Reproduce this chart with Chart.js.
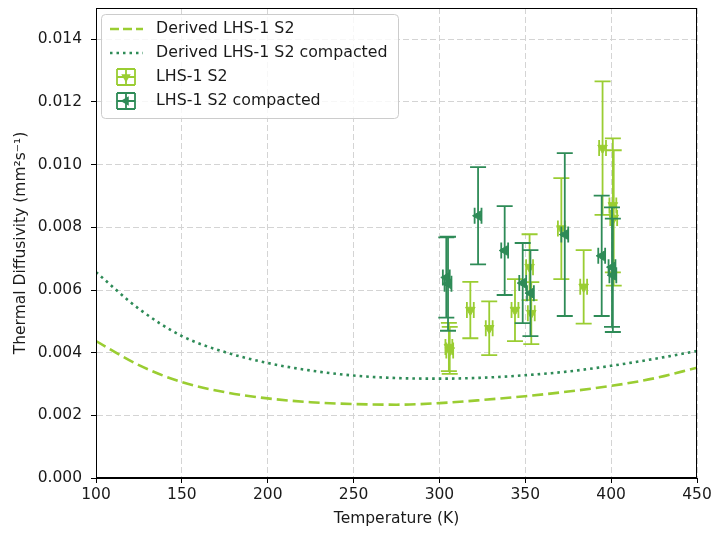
<!DOCTYPE html>
<html>
<head>
<meta charset="utf-8">
<script src="https://cdn.jsdelivr.net/npm/chart.js@4.4.1/dist/chart.umd.min.js"></script>
<style>
  html, body { margin: 0; padding: 0; background: #ffffff; }
  #wrap { width: 715px; height: 533px; }
</style>
</head>
<body>
<div id="wrap"><canvas id="c" width="715" height="533"></canvas></div>
<script>
// Derived diffusivity curves (K, mm^2/s)
const fitTemps = [100, 125, 150, 175, 200, 225, 250, 275, 300, 325, 350, 375, 400, 425, 450];
const fitBulk = [0.00437, 0.00360, 0.00306, 0.00274, 0.00254, 0.00242, 0.00236, 0.00234, 0.00239, 0.00249, 0.00261, 0.00276, 0.00294, 0.00318, 0.00352];
const fitCompacted = [0.00657, 0.00540, 0.00453, 0.00402, 0.00367, 0.00343, 0.00327, 0.00319, 0.00317, 0.00320, 0.00328, 0.00340, 0.00358, 0.00380, 0.00405];

// Measurements, LHS-1 S2
const bulkTemps = [305.5, 306, 318, 329, 344, 352.5, 353.5, 371, 384, 395, 401, 401.5];
const bulkValues = [0.00418, 0.00407, 0.00536, 0.00478, 0.00536, 0.00673, 0.00526, 0.00796, 0.00610, 0.01053, 0.00870, 0.00830];
const bulkErrors = [0.00077, 0.00075, 0.00090, 0.00086, 0.00099, 0.00105, 0.00099, 0.00161, 0.00117, 0.00213, 0.00214, 0.00216];
const bulkTempErrors = [2, 2, 2, 2, 2, 2, 2, 2, 2, 2, 2, 2];

// Measurements, LHS-1 S2 compacted
const compTemps = [304, 305, 322.5, 338, 348.5, 353, 373, 394.5, 400.5, 401];
const compValues = [0.00640, 0.00620, 0.00837, 0.00726, 0.00622, 0.00590, 0.00777, 0.00709, 0.00673, 0.00647];
const compErrors = [0.00128, 0.00150, 0.00155, 0.00142, 0.00128, 0.00137, 0.00260, 0.00192, 0.00191, 0.00181];
const compTempErrors = [2, 2, 2, 2, 2, 2, 2, 2, 2, 2];

const xTicks = [100, 150, 200, 250, 300, 350, 400, 450];
const yTicks = [0.000, 0.002, 0.004, 0.006, 0.008, 0.010, 0.012, 0.014];

const seriesNames = ['Derived LHS-1 S2', 'Derived LHS-1 S2 compacted', 'LHS-1 S2', 'LHS-1 S2 compacted'];

const LIGHT = '#9acd32';
const DARK = '#2e8b57';
const FONT = "'DejaVu Sans', sans-serif";
const TEXT = '#1a1a1a';

const toPoints = (xs, ys) => xs.map((x, i) => ({ x: x, y: ys[i] }));

// Error bars drawn just before each measurement dataset, so markers sit on top
const errorBarPlugin = {
  id: 'errorBars',
  beforeDatasetDraw(chart, args) {
    const ds = chart.data.datasets[args.index];
    if (!ds.yErr) return;
    const xs = chart.scales.x, ys = chart.scales.y;
    const ctx = chart.ctx;
    const cap = 8;
    ctx.save();
    ctx.strokeStyle = ds.borderColor;
    ctx.lineWidth = 1.8;
    ds.data.forEach((p, i) => {
      const px = xs.getPixelForValue(p.x);
      const py = ys.getPixelForValue(p.y);
      const yTop = ys.getPixelForValue(p.y + ds.yErr[i]);
      const yBot = ys.getPixelForValue(p.y - ds.yErr[i]);
      const xL = xs.getPixelForValue(p.x - ds.xErr[i]);
      const xR = xs.getPixelForValue(p.x + ds.xErr[i]);
      ctx.beginPath();
      ctx.moveTo(px, yTop); ctx.lineTo(px, yBot);
      ctx.moveTo(px - cap, yTop); ctx.lineTo(px + cap, yTop);
      ctx.moveTo(px - cap, yBot); ctx.lineTo(px + cap, yBot);
      ctx.moveTo(xL, py); ctx.lineTo(xR, py);
      ctx.moveTo(xL, py - cap); ctx.lineTo(xL, py + cap);
      ctx.moveTo(xR, py - cap); ctx.lineTo(xR, py + cap);
      ctx.stroke();
    });
    ctx.restore();
  }
};

function drawTriangle(ctx, cx, cy, r, rotDeg, color) {
  const rot = rotDeg * Math.PI / 180;
  ctx.beginPath();
  for (let k = 0; k < 3; k++) {
    const a = rot - Math.PI / 2 + k * 2 * Math.PI / 3;
    const x = cx + r * Math.cos(a), y = cy + r * Math.sin(a);
    if (k === 0) ctx.moveTo(x, y); else ctx.lineTo(x, y);
  }
  ctx.closePath();
  ctx.fillStyle = color;
  ctx.fill();
}

// Axes frame and legend box
const framePlugin = {
  id: 'frameAndLegend',
  afterDraw(chart) {
    const ctx = chart.ctx;
    const a = chart.chartArea;
    ctx.save();
    ctx.strokeStyle = '#000000';
    ctx.lineWidth = 1;
    ctx.strokeRect(a.left + 0.5, a.top + 0.5, a.right - a.left - 1, a.bottom - a.top - 1);

    // legend
    const bx = 101.5, by = 14.5, bw = 297, bh = 104, r = 4;
    ctx.beginPath();
    ctx.moveTo(bx + r, by);
    ctx.lineTo(bx + bw - r, by); ctx.arcTo(bx + bw, by, bx + bw, by + r, r);
    ctx.lineTo(bx + bw, by + bh - r); ctx.arcTo(bx + bw, by + bh, bx + bw - r, by + bh, r);
    ctx.lineTo(bx + r, by + bh); ctx.arcTo(bx, by + bh, bx, by + bh - r, r);
    ctx.lineTo(bx, by + r); ctx.arcTo(bx, by, bx + r, by, r);
    ctx.closePath();
    ctx.fillStyle = 'rgba(255,255,255,0.8)';
    ctx.fill();
    ctx.strokeStyle = '#cccccc';
    ctx.stroke();

    const rows = [29, 53, 77, 101];
    ctx.lineWidth = 2.5;
    ctx.strokeStyle = LIGHT;
    ctx.setLineDash([9, 4]);
    ctx.beginPath(); ctx.moveTo(110, rows[0]); ctx.lineTo(143, rows[0]); ctx.stroke();
    ctx.strokeStyle = DARK;
    ctx.setLineDash([2.5, 4]);
    ctx.beginPath(); ctx.moveTo(110, rows[1]); ctx.lineTo(143, rows[1]); ctx.stroke();
    ctx.setLineDash([]);

    [[rows[2], LIGHT, 180], [rows[3], DARK, 270]].forEach(([y, col, rot]) => {
      ctx.strokeStyle = col;
      ctx.lineWidth = 1.8;
      const cx = 126, h = 8, w = 9;
      ctx.beginPath();
      ctx.moveTo(cx - w, y); ctx.lineTo(cx + w, y);
      ctx.moveTo(cx - w, y - h); ctx.lineTo(cx - w, y + h);
      ctx.moveTo(cx + w, y - h); ctx.lineTo(cx + w, y + h);
      ctx.moveTo(cx, y - h); ctx.lineTo(cx, y + h);
      ctx.moveTo(cx - w, y - h); ctx.lineTo(cx + w, y - h);
      ctx.moveTo(cx - w, y + h); ctx.lineTo(cx + w, y + h);
      ctx.stroke();
      drawTriangle(ctx, cx, y, 5.5, rot, col);
    });

    ctx.fillStyle = TEXT;
    ctx.font = '15.8px ' + FONT;
    ctx.textBaseline = 'middle';
    ctx.textAlign = 'left';
    seriesNames.forEach((name, i) => ctx.fillText(name, 156, rows[i]));
    ctx.restore();
  }
};

Chart.defaults.font.family = FONT;
Chart.defaults.font.size = 15.5;
Chart.defaults.color = TEXT;

new Chart(document.getElementById('c'), {
  type: 'scatter',
  data: {
    datasets: [
      {
        label: seriesNames[3],
        data: toPoints(compTemps, compValues),
        yErr: compErrors,
        xErr: compTempErrors,
        borderColor: DARK,
        backgroundColor: DARK,
        pointStyle: 'triangle',
        rotation: 270,
        pointRadius: 5.5,
        pointBorderWidth: 1,
        order: 0
      },
      {
        label: seriesNames[2],
        data: toPoints(bulkTemps, bulkValues),
        yErr: bulkErrors,
        xErr: bulkTempErrors,
        borderColor: LIGHT,
        backgroundColor: LIGHT,
        pointStyle: 'triangle',
        rotation: 180,
        pointRadius: 5.5,
        pointBorderWidth: 1,
        order: 1
      },
      {
        label: seriesNames[1],
        type: 'line',
        data: toPoints(fitTemps, fitCompacted),
        borderColor: DARK,
        borderWidth: 2.6,
        borderDash: [2.6, 4],
        pointRadius: 0,
        cubicInterpolationMode: 'monotone',
        fill: false,
        order: 2
      },
      {
        label: seriesNames[0],
        type: 'line',
        data: toPoints(fitTemps, fitBulk),
        borderColor: LIGHT,
        borderWidth: 2.6,
        borderDash: [11, 5],
        pointRadius: 0,
        cubicInterpolationMode: 'monotone',
        fill: false,
        order: 3
      }
    ]
  },
  options: {
    responsive: false,
    animation: false,
    devicePixelRatio: 1,
    layout: { padding: { left: 0, right: 18, top: 8, bottom: 0 } },
    plugins: {
      legend: { display: false },
      tooltip: { enabled: false }
    },
    scales: {
      x: {
        type: 'linear',
        min: 100,
        max: 450,
        afterFit(scale) { scale.height = 55; scale.paddingLeft = 0; scale.paddingRight = 0; },
        afterBuildTicks(scale) { scale.ticks = xTicks.map(v => ({ value: v })); },
        ticks: { padding: 3, color: TEXT, callback: v => String(v) },
        grid: { color: '#d4d4d4', lineWidth: 1, tickLength: 5, tickColor: '#000000', tickWidth: 1 },
        border: { display: true, color: '#000000', width: 1, dash: [6, 3] },
        title: { display: true, text: 'Temperature (K)', color: TEXT, padding: { top: 0, bottom: 5 } }
      },
      y: {
        type: 'linear',
        min: 0,
        max: 0.015,
        afterFit(scale) { scale.width = 96; scale.paddingTop = 0; scale.paddingBottom = 0; },
        afterBuildTicks(scale) { scale.ticks = yTicks.map(v => ({ value: v })); },
        ticks: { padding: 9, color: TEXT, callback: v => Number(v).toFixed(3) },
        grid: { color: '#d4d4d4', lineWidth: 1, tickLength: 5, tickColor: '#000000', tickWidth: 1 },
        border: { display: true, color: '#000000', width: 1, dash: [6, 3] },
        title: { display: true, text: 'Thermal Diffusivity (mm²s⁻¹)', color: TEXT, padding: { top: 12, bottom: 0 } }
      }
    }
  },
  plugins: [errorBarPlugin, framePlugin]
});
</script>
</body>
</html>
